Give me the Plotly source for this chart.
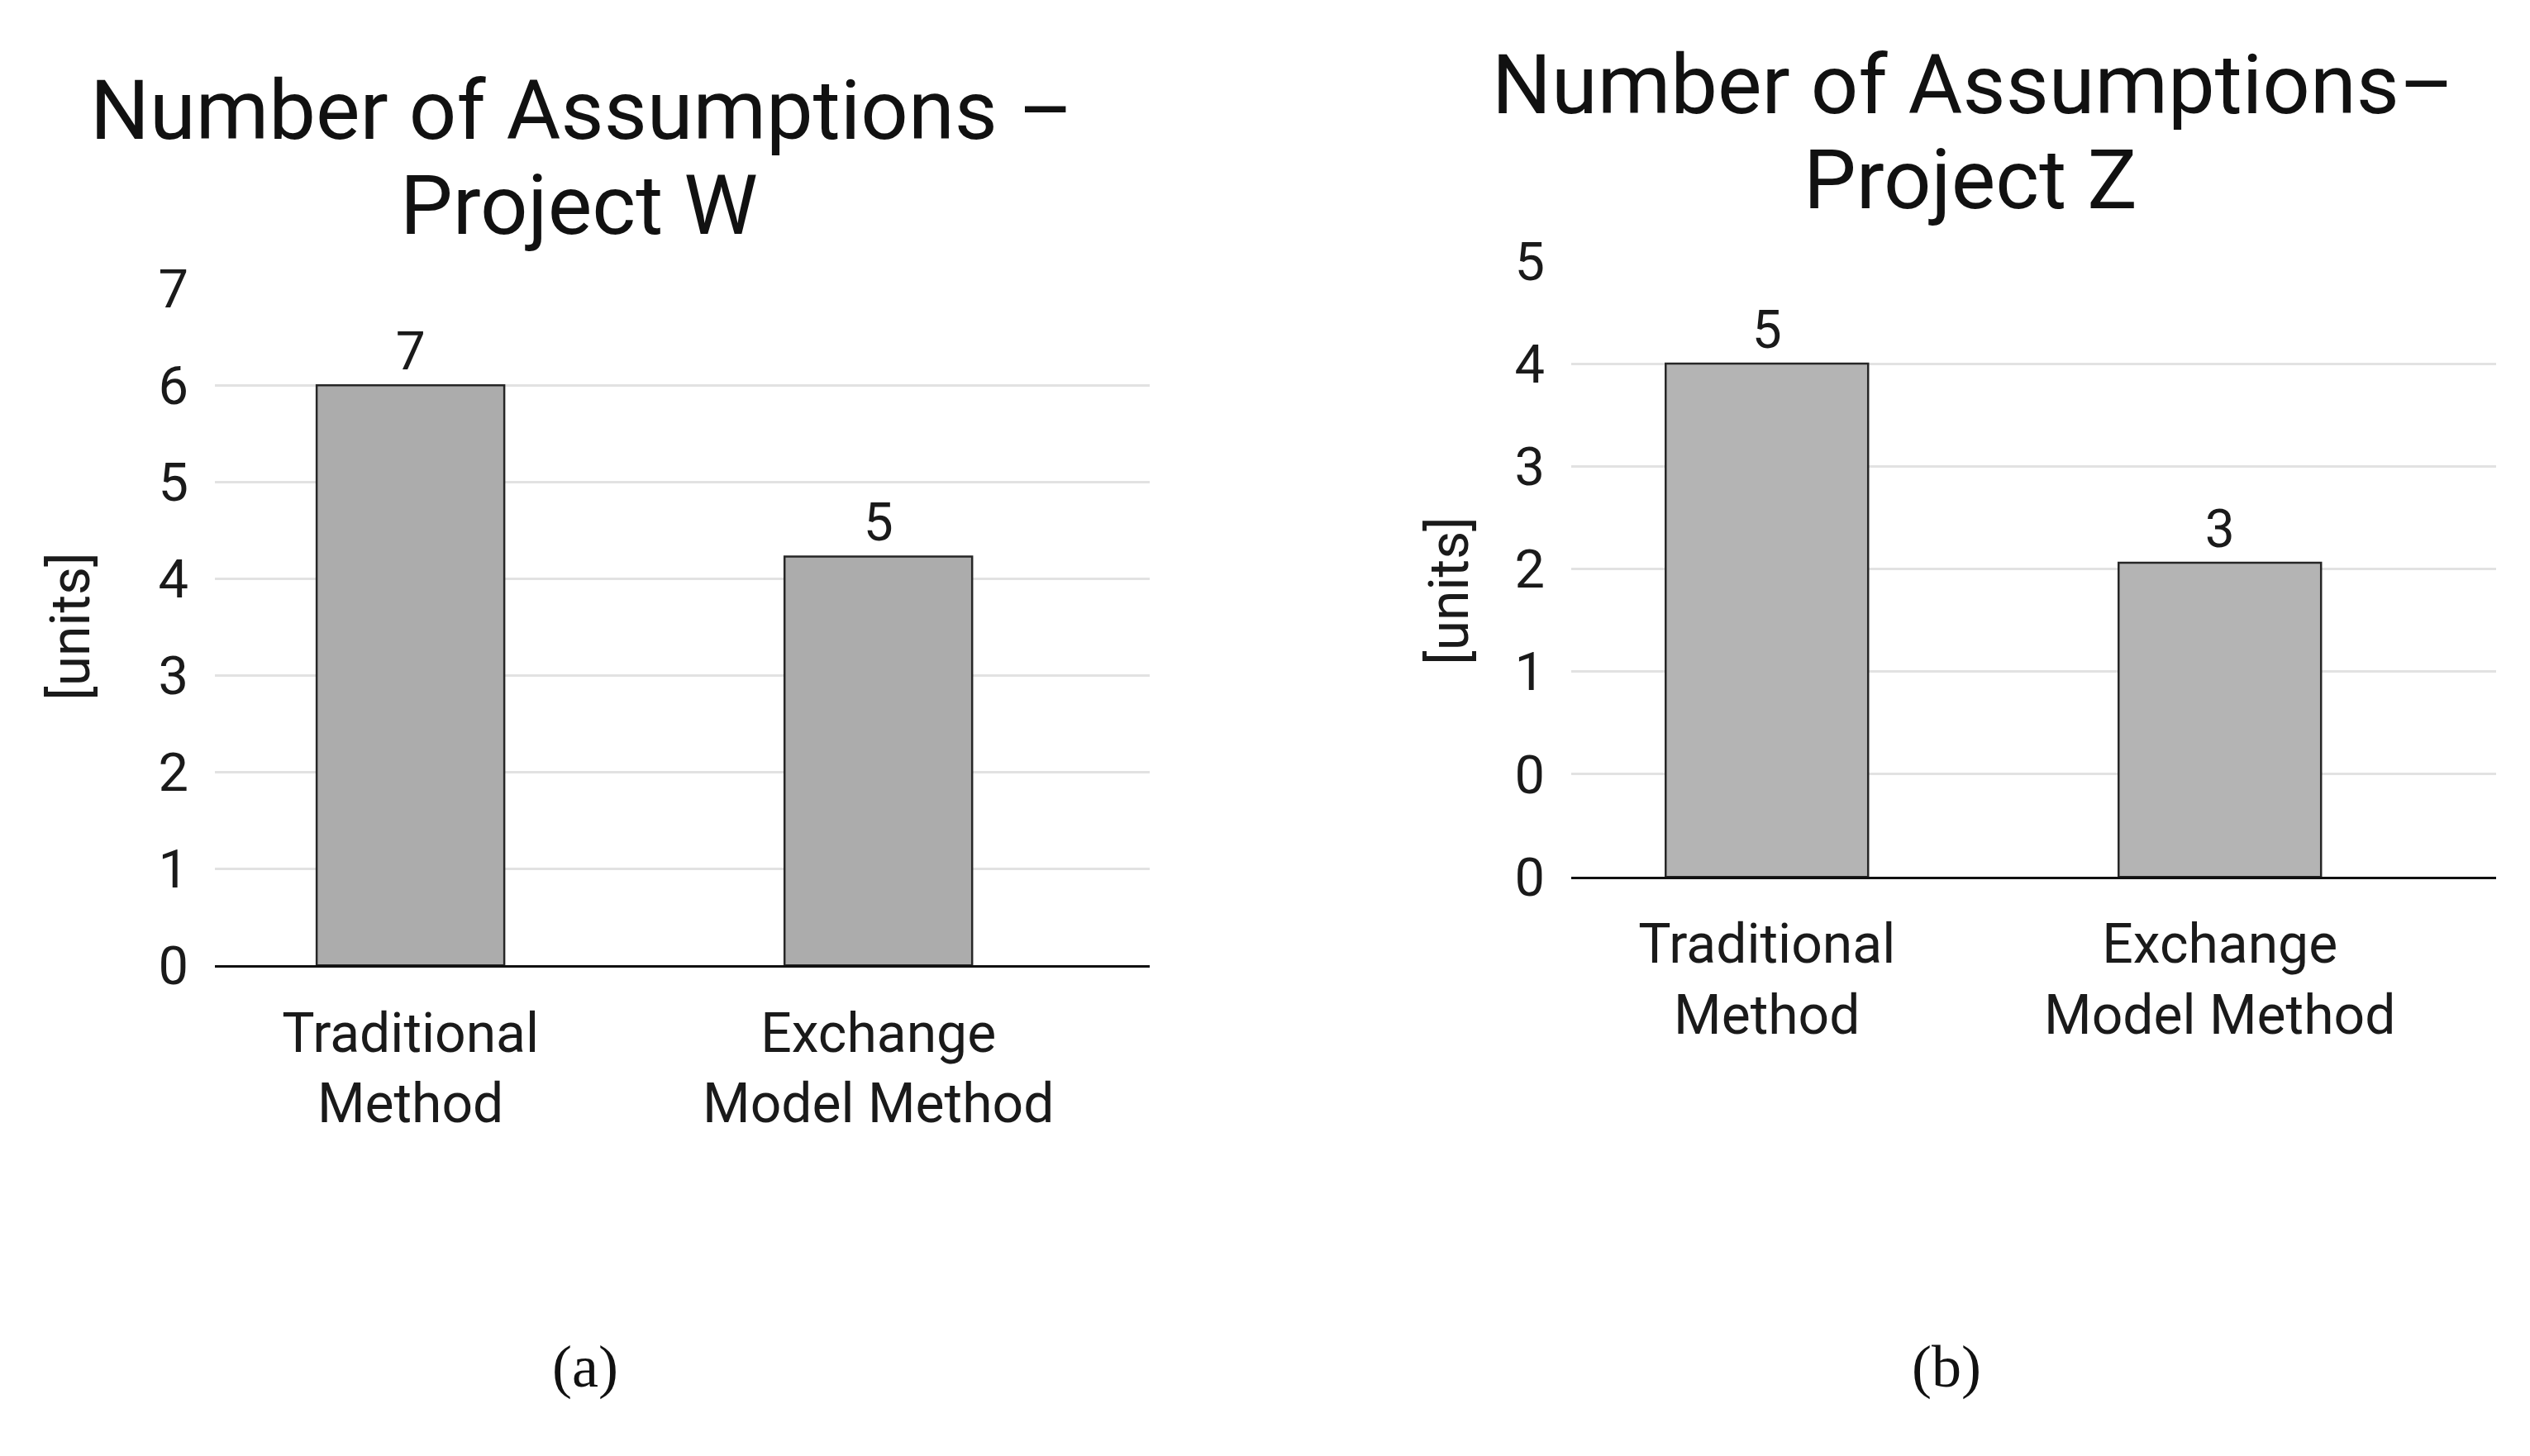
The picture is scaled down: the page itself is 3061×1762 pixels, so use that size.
import plotly.graph_objects as go

# ---- data ----
categories = ["Traditional<br>Method", "Exchange<br>Model Method"]

w_heights = [6, 4.23]
w_labels = ["7", "5"]
w_tickvals = [0, 1, 2, 3, 4, 5, 6, 7]
w_ticktext = ["0", "1", "2", "3", "4", "5", "6", "7"]

z_heights = [5, 3.06]
z_labels = ["5", "3"]
z_tickvals = [0, 1, 2, 3, 4, 5, 6]
z_ticktext = ["0", "0", "1", "2", "3", "4", "5"]

W, H = 3061, 1762
FONT = "Roboto"
TXT = "#1a1a1a"

fig = go.Figure()

fig.add_trace(go.Bar(
    x=categories, y=w_heights, text=w_labels, textposition="outside",
    textfont=dict(family=FONT, size=64, color=TXT), cliponaxis=False,
    marker=dict(color="#acacac", line=dict(color="#262626", width=2.5)),
    width=0.401, xaxis="x", yaxis="y", showlegend=False, hoverinfo="skip"))

fig.add_trace(go.Bar(
    x=categories, y=z_heights, text=z_labels, textposition="outside",
    textfont=dict(family=FONT, size=64, color=TXT), cliponaxis=False,
    marker=dict(color="#b4b4b4", line=dict(color="#262626", width=2.5)),
    width=0.447, xaxis="x2", yaxis="y2", showlegend=False, hoverinfo="skip"))

def px(x):
    return x / W

def py(y):
    return 1 - y / H

axis_common_x = dict(type="category", showgrid=False, showline=True, linecolor="#111111",
                     linewidth=3, ticks="", ticklabelstandoff=22,
                     tickfont=dict(family=FONT, size=66, color=TXT), fixedrange=True)
axis_common_y = dict(showgrid=True, gridcolor="#e2e2e2", gridwidth=3, zeroline=False,
                     showline=False, ticks="", ticklabelstandoff=31,
                     tickfont=dict(family=FONT, size=65, color=TXT), fixedrange=True)

fig.update_layout(
    width=W, height=H,
    margin=dict(l=0, r=0, t=0, b=0),
    paper_bgcolor="white", plot_bgcolor="white",
    xaxis=dict(domain=[px(252), px(1383)], range=[-0.418, 1.58], anchor="y", **axis_common_x),
    yaxis=dict(domain=[py(1174), py(318)], range=[0, 7], tickvals=w_tickvals,
               ticktext=w_ticktext, anchor="x", **axis_common_y),
    xaxis2=dict(domain=[px(1893), px(3012)], range=[-0.432, 1.61], anchor="y2", **axis_common_x),
    yaxis2=dict(domain=[py(1062), py(283)], range=[0, 6], tickvals=z_tickvals,
                ticktext=z_ticktext, anchor="x2", **axis_common_y),
)

ann = []
def add_text(text, x, y, size, family=FONT, color="#111111", angle=0):
    ann.append(dict(text=text, x=px(x), y=py(y), xref="paper", yref="paper",
                    xanchor="center", yanchor="middle", showarrow=False, textangle=angle,
                    font=dict(family=family, size=size, color=color)))

add_text("Number of Assumptions –", 695, 92, 101)
add_text("Project W", 692, 213, 101)
add_text("Number of Assumptions–", 2379, 60, 101)
add_text("Project Z", 2376, 180, 101)
add_text("[units]", 78, 745, 66, color=TXT, angle=-90)
add_text("[units]", 1746, 700, 66, color=TXT, angle=-90)
add_text("(a)", 700, 1682, 72, family="Liberation Serif")
add_text("(b)", 2347, 1682, 72, family="Liberation Serif")
fig.update_layout(annotations=ann)

fig.write_html("out.html")
